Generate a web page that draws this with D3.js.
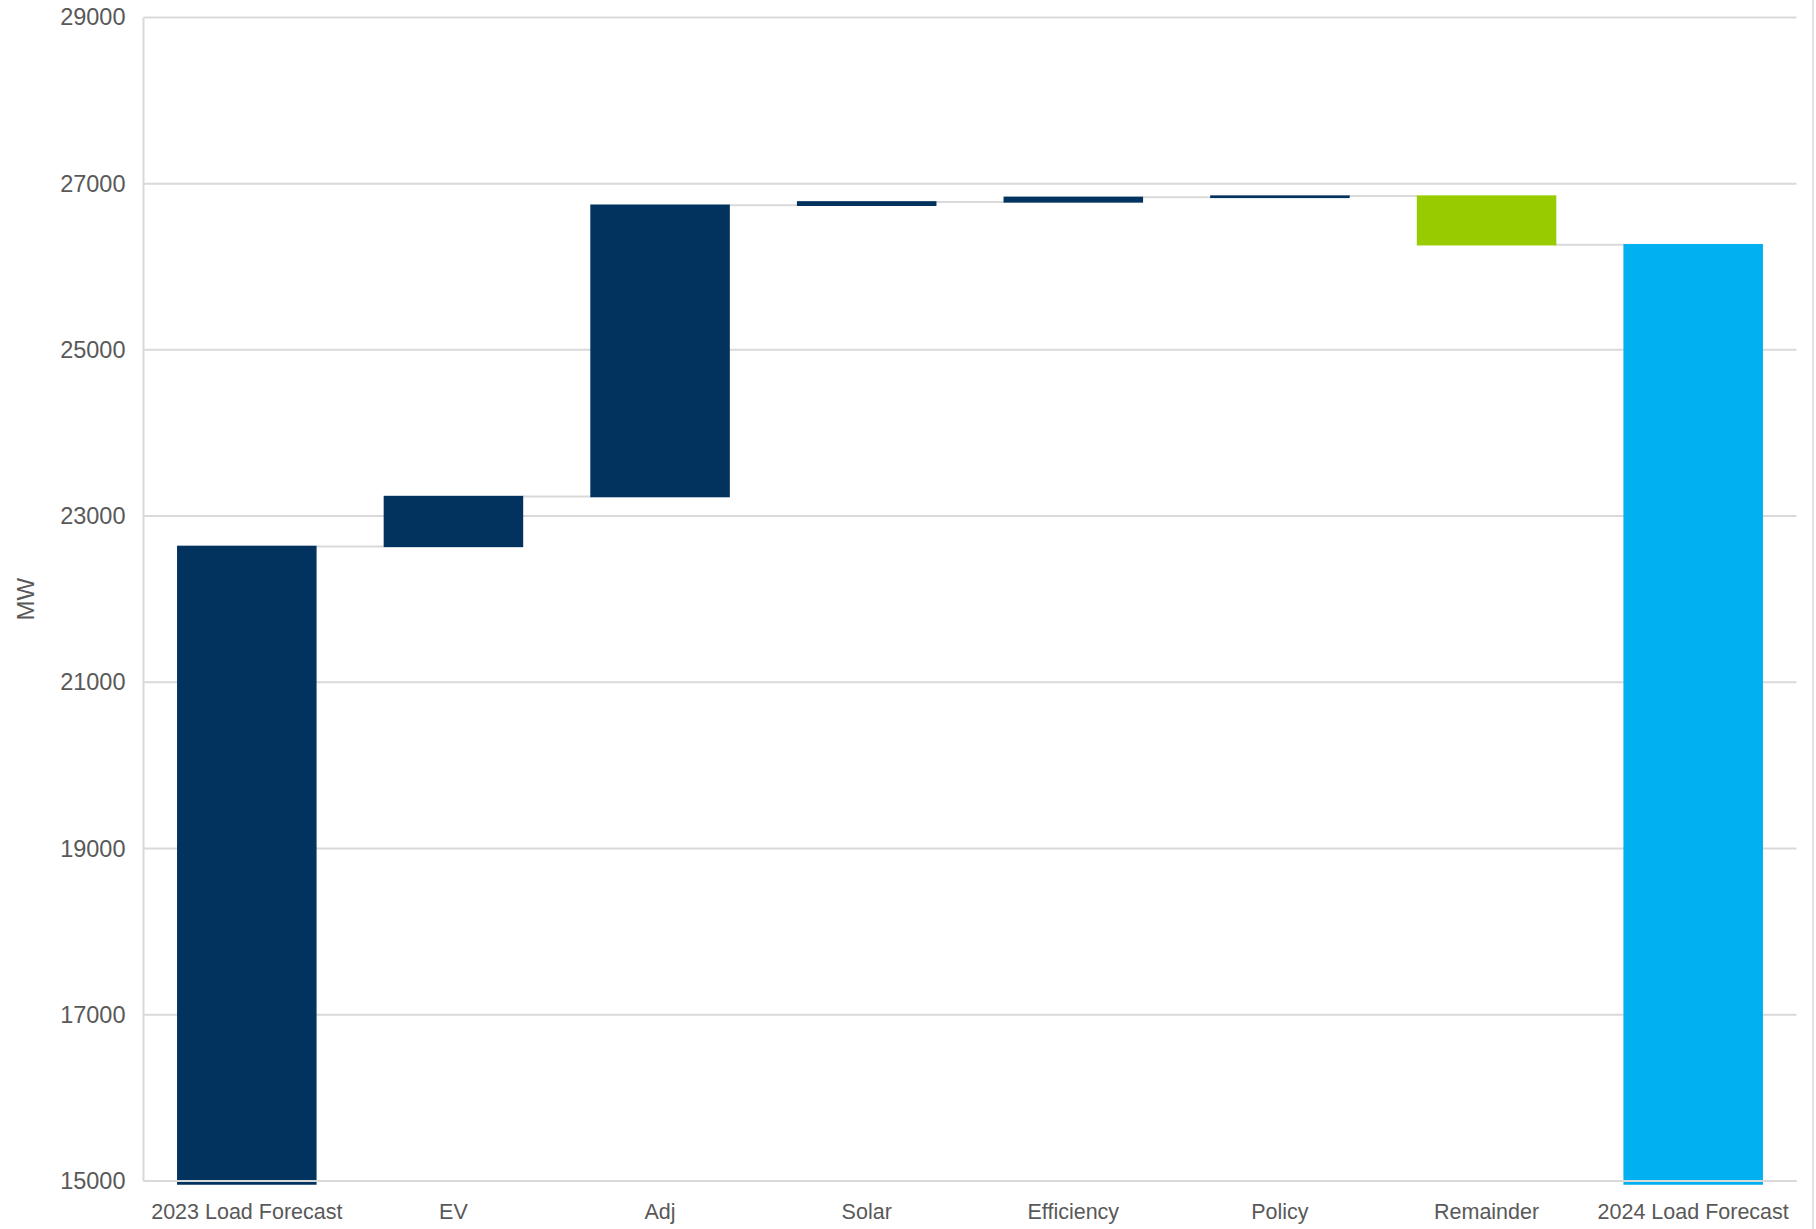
<!DOCTYPE html>
<html>
<head>
<meta charset="utf-8">
<script src="https://cdn.jsdelivr.net/npm/d3@7"></script>
<style>
  html, body { margin: 0; padding: 0; background: #fff; }
  svg { display: block; font-family: Arial, "Liberation Sans", sans-serif; }
</style>
</head>
<body>
<div id="chart"></div>
<script>
// categories and step values (MW)
const categories = ["2023 Load Forecast", "EV", "Adj", "Solar", "Efficiency", "Policy", "Remainder", "2024 Load Forecast"];
const steps = [22635, 600, 3505, 40, 55, 15, -585, null]; // null = running total
const kinds = ["total", "up", "up", "up", "up", "up", "down", "final"];
const yTicks = [15000, 17000, 19000, 21000, 23000, 25000, 27000, 29000];

const colors = { total: "#02335f", up: "#02335f", down: "#99cc00", final: "#00b0f0" };

const width = 1816, height = 1229;
const margin = { top: 17.4, right: 19.5, bottom: 48, left: 143.5 };
const innerW = width - margin.left - margin.right;
const innerH = height - margin.top - margin.bottom;

// build waterfall rows from the steps
let running = 0;
const rows = categories.map((c, i) => {
  let start, end;
  if (kinds[i] === "total") { start = null; end = steps[i]; }
  else if (kinds[i] === "final") { start = null; end = running; }
  else { start = running; end = running + steps[i]; }
  running = end;
  return { cat: c, kind: kinds[i], start, end };
});

const svg = d3.select("#chart").append("svg")
  .attr("width", width)
  .attr("height", height);

const g = svg.append("g")
  .attr("transform", `translate(${margin.left},${margin.top})`);

const x = d3.scaleBand().domain(categories).range([0, innerW]).paddingInner(0.332).paddingOuter(0.166);
const y = d3.scaleLinear().domain([15000, 29000]).range([innerH, 0]);

// gridlines
g.append("g")
  .selectAll("line")
  .data(yTicks)
  .join("line")
  .attr("x1", 0).attr("x2", innerW)
  .attr("y1", d => y(d)).attr("y2", d => y(d))
  .attr("stroke", "#d9d9d9")
  .attr("stroke-width", 2);

// left axis line
g.append("line")
  .attr("x1", 0).attr("x2", 0)
  .attr("y1", y(29000)).attr("y2", y(15000))
  .attr("stroke", "#d9d9d9")
  .attr("stroke-width", 2);

// connectors between bars
g.append("g")
  .selectAll("line")
  .data(rows.slice(0, -1))
  .join("line")
  .attr("x1", d => x(d.cat) + x.bandwidth())
  .attr("x2", (d, i) => x(categories[i + 1]))
  .attr("y1", d => y(d.end))
  .attr("y2", d => y(d.end))
  .attr("stroke", "#d9d9d9")
  .attr("stroke-width", 2);

// bars (totals run a little past the axis floor, as in the source)
g.append("g")
  .selectAll("rect")
  .data(rows)
  .join("rect")
  .attr("x", d => x(d.cat))
  .attr("width", x.bandwidth())
  .attr("y", d => d.start === null ? y(d.end) : y(Math.max(d.start, d.end)))
  .attr("height", d => d.start === null
    ? y.range()[0] - y(d.end) + 3
    : Math.abs(y(d.start) - y(d.end)))
  .attr("fill", d => colors[d.kind])
  .attr("stroke", d => colors[d.kind])
  .attr("stroke-width", 1.5);

// bottom axis line drawn over the bars
g.append("line")
  .attr("x1", 0).attr("x2", innerW)
  .attr("y1", y(15000)).attr("y2", y(15000))
  .attr("stroke", "#d9d9d9")
  .attr("stroke-width", 2);

// y axis labels
const yAxis = g.append("g")
  .call(d3.axisLeft(y).tickValues(yTicks).tickSize(0).tickPadding(18).tickFormat(d3.format("d")));
yAxis.select(".domain").remove();
yAxis.selectAll("text")
  .attr("fill", "#595959")
  .style("font-size", "23.5px")
  .style("font-family", "Arial, 'Liberation Sans', sans-serif");

// x axis labels
const xAxis = g.append("g")
  .attr("transform", `translate(0,${innerH})`)
  .call(d3.axisBottom(x).tickSize(0).tickPadding(23));
xAxis.select(".domain").remove();
xAxis.selectAll("text")
  .attr("fill", "#595959")
  .style("font-size", "21.5px")
  .style("font-family", "Arial, 'Liberation Sans', sans-serif");

// y axis title
svg.append("text")
  .attr("transform", `translate(34,${margin.top + innerH / 2}) rotate(-90)`)
  .attr("text-anchor", "middle")
  .attr("fill", "#595959")
  .style("font-size", "24px")
  .text("MW");

// right frame edge
svg.append("line")
  .attr("x1", 1813).attr("x2", 1813)
  .attr("y1", 0).attr("y2", height)
  .attr("stroke", "#d9d9d9")
  .attr("stroke-width", 1.5);
</script>
</body>
</html>
